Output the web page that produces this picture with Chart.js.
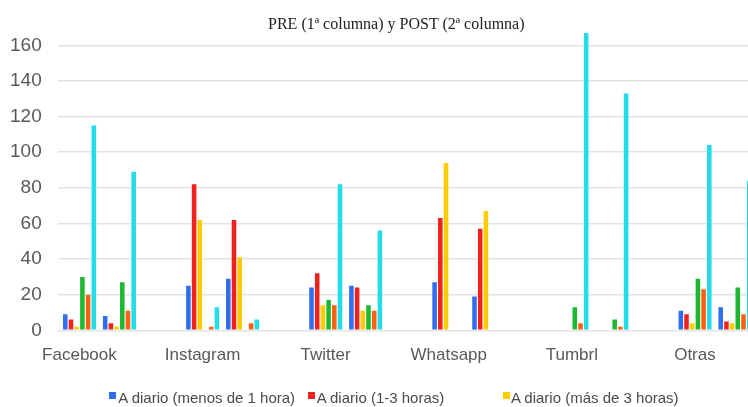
<!DOCTYPE html>
<html>
<head>
<meta charset="utf-8">
<script src="https://cdn.jsdelivr.net/npm/chart.js@4.4.1/dist/chart.umd.min.js"></script>
<style>
  html, body { margin: 0; padding: 0; background: #ffffff; width: 748px; height: 407px; overflow: hidden; }
  #wrap { position: relative; width: 800px; height: 407px; }
  #chart { position: absolute; left: 0; top: 0; }
  #title { position: absolute; left: 0; width: 792.6px; top: 15.6px; text-align: center;
           font-family: "Liberation Serif", "Times New Roman", serif; font-size: 16px; line-height: 16px; color: #222; white-space: nowrap; }
  .lg { position: absolute; font-family: "Liberation Sans", Arial, sans-serif; font-size: 15px; line-height: 15px; color: #4a4a4a; white-space: nowrap; top: 389.5px; }
  .sw { position: absolute; width: 7px; height: 7px; top: 392px; }
</style>
</head>
<body>
<div id="wrap">
  <canvas id="chart" width="800" height="407"></canvas>
  <div id="title"></div>
  <div id="legend"></div>
</div>
<script>
// ---- data ----
const titleText = 'PRE (1ª columna) y POST (2ª columna)';
const categories = ['Facebook', 'Instagram', 'Twitter', 'Whatsapp', 'Tumbrl', 'Otras'];
const seriesLabels = ['A diario (menos de 1 hora)', 'A diario (1-3 horas)', 'A diario (más de 3 horas)', 'Serie 4', 'Serie 5', 'Serie 6'];
const seriesColors = ['#2F6FEF', '#F0221E', '#FFCC00', '#1DB832', '#FF5F0F', '#22DDE8'];

// PRE (1ª columna)
const preMenos1h   = [9, 25, 24, 27, 0, 11];
const pre1a3h      = [6, 82, 32, 63, 0, 9];
const preMas3h     = [2, 62, 14, 94, 0, 4];
const preSerie4    = [30, 0, 17, 0, 13, 29];
const preSerie5    = [20, 2, 14, 0, 4, 23];
const preSerie6    = [115, 13, 82, 0, 167, 104];

// POST (2ª columna)
const postMenos1h  = [8, 29, 25, 19, 0, 13];
const post1a3h     = [4, 62, 24, 57, 0, 5];
const postMas3h    = [2, 41, 11, 67, 0, 4];
const postSerie4   = [27, 0, 14, 0, 6, 24];
const postSerie5   = [11, 4, 11, 0, 2, 9];
const postSerie6   = [89, 6, 56, 0, 133, 84];

const yTicks = [0, 20, 40, 60, 80, 100, 120, 140, 160];

// ---- build ----
const preSeries  = [preMenos1h, pre1a3h, preMas3h, preSerie4, preSerie5, preSerie6];
const postSeries = [postMenos1h, post1a3h, postMas3h, postSerie4, postSerie5, postSerie6];

const datasets = [];
preSeries.forEach((d, i) => datasets.push({ label: seriesLabels[i] + ' (PRE)', data: d, backgroundColor: seriesColors[i] }));
datasets.push({ label: 'gap', data: [], backgroundColor: 'rgba(0,0,0,0)' });
postSeries.forEach((d, i) => datasets.push({ label: seriesLabels[i] + ' (POST)', data: d, backgroundColor: seriesColors[i] }));
for (let k = 0; k < 7; k++) datasets.push({ label: 'pad' + k, data: [], backgroundColor: 'rgba(0,0,0,0)' });

document.getElementById('title').textContent = titleText;

const legendEl = document.getElementById('legend');
const legendPos = [[109, 118.3], [308.3, 316.7], [502.7, 511]];
for (let i = 0; i < 3; i++) {
  const sw = document.createElement('div');
  sw.className = 'sw';
  sw.style.left = legendPos[i][0] + 'px';
  sw.style.background = seriesColors[i];
  legendEl.appendChild(sw);
  const t = document.createElement('div');
  t.className = 'lg';
  t.style.left = legendPos[i][1] + 'px';
  t.textContent = seriesLabels[i];
  legendEl.appendChild(t);
}

new Chart(document.getElementById('chart'), {
  type: 'bar',
  data: { labels: categories, datasets: datasets },
  options: {
    responsive: false,
    animation: false,
    devicePixelRatio: 1,
    datasets: { bar: { categoryPercentage: 0.926, barPercentage: 0.8 } },
    layout: { padding: { left: 0, right: 3.5, top: 26.4, bottom: 36.7 } },
    plugins: { legend: { display: false }, title: { display: false }, tooltip: { enabled: false } },
    scales: {
      x: {
        grid: { display: false, drawTicks: false },
        border: { display: false },
        ticks: {
          padding: 15,
          labelOffset: -40,
          autoSkip: false,
          maxRotation: 0,
          color: '#595959',
          font: { family: 'Liberation Sans', size: 17 }
        },
        afterFit: (s) => { s.height = 40; }
      },
      y: {
        min: 0,
        max: 170,
        grid: { color: '#E3E3E3', lineWidth: 1.6, drawTicks: false },
        border: { display: false },
        ticks: {
          stepSize: 20,
          includeBounds: false,
          padding: 16.2,
          color: '#595959',
          font: { family: 'Liberation Sans', size: 19 },
          callback: (v) => yTicks.includes(v) ? String(v) : ''
        },
        afterFit: (s) => { s.width = 57.9; }
      }
    }
  }
});
</script>
</body>
</html>
